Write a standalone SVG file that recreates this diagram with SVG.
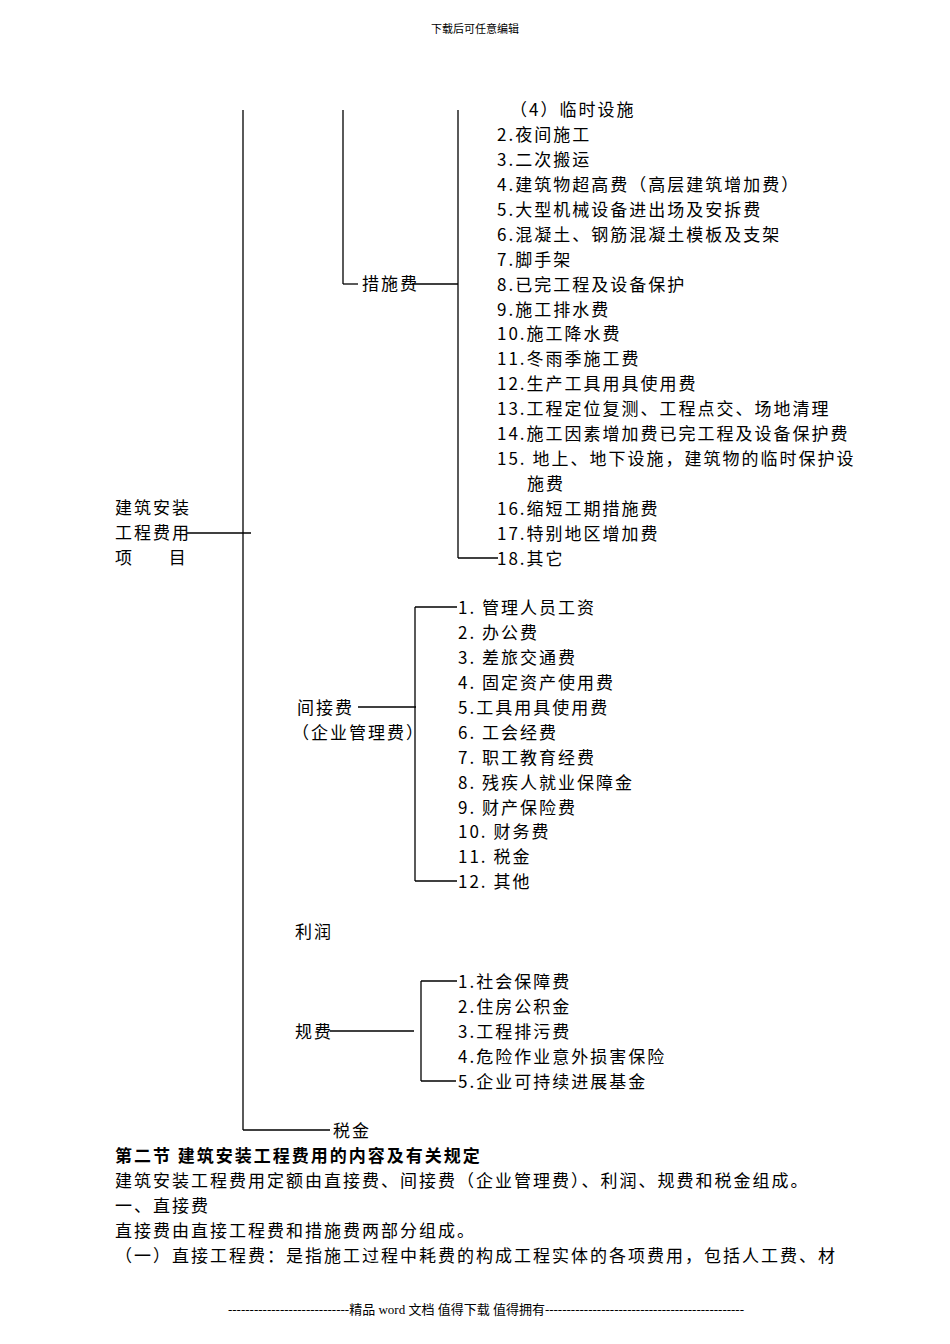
<svg xmlns="http://www.w3.org/2000/svg" width="950" height="1344" viewBox="0 0 950 1344">
<style>
text{font-family:"Noto Sans CJK SC","Liberation Serif",serif;font-size:17px;fill:#000;letter-spacing:2px}
.s{font-size:11px;letter-spacing:0}
.f{font-family:"Liberation Serif","Noto Sans CJK SC",serif;font-size:13px;letter-spacing:0}
.b{font-weight:bold}
line{stroke:#000;stroke-width:1.3}
</style>
<rect width="950" height="1344" fill="#fff"/>
<text class="s" x="475" y="33" text-anchor="middle">下载后可任意编辑</text>
<g id="connectors">
<line x1="243" y1="110" x2="243" y2="1130"/><line x1="243" y1="1130" x2="330" y2="1130"/>
<line x1="187" y1="533" x2="251" y2="533"/>
<line x1="343" y1="110" x2="343" y2="284"/><line x1="343" y1="284" x2="358" y2="284"/>
<line x1="412" y1="284" x2="458" y2="284"/>
<line x1="458" y1="110" x2="458" y2="558"/><line x1="458" y1="558" x2="498" y2="558"/>
<line x1="358" y1="707" x2="416" y2="707"/>
<line x1="415" y1="607" x2="415" y2="881"/><line x1="415" y1="607" x2="457" y2="607"/><line x1="415" y1="881" x2="457" y2="881"/>
<line x1="330" y1="1031" x2="414" y2="1031"/>
<line x1="421" y1="981" x2="421" y2="1081"/><line x1="421" y1="981" x2="457" y2="981"/><line x1="421" y1="1081" x2="456" y2="1081"/>
</g>
<g id="root"><text x="115" y="514">建筑安装</text><text x="115" y="539">工程费用</text><text x="115" y="564" xml:space="preserve">项      目</text></g>
<g id="cuoshi"><text x="362" y="290">措施费</text></g>
<g id="cuoshi-items">
<text x="510" y="116">（4）临时设施</text>
<text x="497" y="141">2.夜间施工</text>
<text x="497" y="166">3.二次搬运</text>
<text x="497" y="191">4.建筑物超高费（高层建筑增加费）</text>
<text x="497" y="216">5.大型机械设备进出场及安拆费</text>
<text x="497" y="241">6.混凝土、钢筋混凝土模板及支架</text>
<text x="497" y="266">7.脚手架</text>
<text x="497" y="291">8.已完工程及设备保护</text>
<text x="497" y="316">9.施工排水费</text>
<text x="497" y="340">10.施工降水费</text>
<text x="497" y="365">11.冬雨季施工费</text>
<text x="497" y="390">12.生产工具用具使用费</text>
<text x="497" y="415">13.工程定位复测、工程点交、场地清理</text>
<text x="497" y="440">14.施工因素增加费已完工程及设备保护费</text>
<text x="497" y="465" xml:space="preserve">15. 地上、地下设施，建筑物的临时保护设</text>
<text x="527" y="490">施费</text>
<text x="497" y="515">16.缩短工期措施费</text>
<text x="497" y="540">17.特别地区增加费</text>
<text x="497" y="565">18.其它</text>
</g>
<g id="jianjie"><text x="297" y="714">间接费</text><text x="292" y="739">（企业管理费）</text></g>
<g id="jianjie-items">
<text x="458" y="614" xml:space="preserve">1. 管理人员工资</text>
<text x="458" y="639" xml:space="preserve">2. 办公费</text>
<text x="458" y="664" xml:space="preserve">3. 差旅交通费</text>
<text x="458" y="689" xml:space="preserve">4. 固定资产使用费</text>
<text x="458" y="714">5.工具用具使用费</text>
<text x="458" y="739" xml:space="preserve">6. 工会经费</text>
<text x="458" y="764" xml:space="preserve">7. 职工教育经费</text>
<text x="458" y="789" xml:space="preserve">8. 残疾人就业保障金</text>
<text x="458" y="814" xml:space="preserve">9. 财产保险费</text>
<text x="458" y="838" xml:space="preserve">10. 财务费</text>
<text x="458" y="863" xml:space="preserve">11. 税金</text>
<text x="458" y="888" xml:space="preserve">12. 其他</text>
</g>
<g id="lirun"><text x="295" y="938">利润</text></g>
<g id="guifei"><text x="295" y="1038">规费</text></g>
<g id="guifei-items">
<text x="458" y="988">1.社会保障费</text>
<text x="458" y="1013">2.住房公积金</text>
<text x="458" y="1038">3.工程排污费</text>
<text x="458" y="1063">4.危险作业意外损害保险</text>
<text x="458" y="1088">5.企业可持续进展基金</text>
</g>
<g id="shuijin"><text x="333" y="1137">税金</text></g>
<text class="b" x="115" y="1162">第二节 建筑安装工程费用的内容及有关规定</text>
<text x="115" y="1187">建筑安装工程费用定额由直接费、间接费（企业管理费）、利润、规费和税金组成。</text>
<text x="115" y="1212">一、直接费</text>
<text x="115" y="1237">直接费由直接工程费和措施费两部分组成。</text>
<text x="115" y="1262">（一）直接工程费：是指施工过程中耗费的构成工程实体的各项费用，包括人工费、材</text>
<text class="f" x="486" y="1314" text-anchor="middle">----------------------------精品 word 文档 值得下载 值得拥有----------------------------------------------</text>
</svg>
